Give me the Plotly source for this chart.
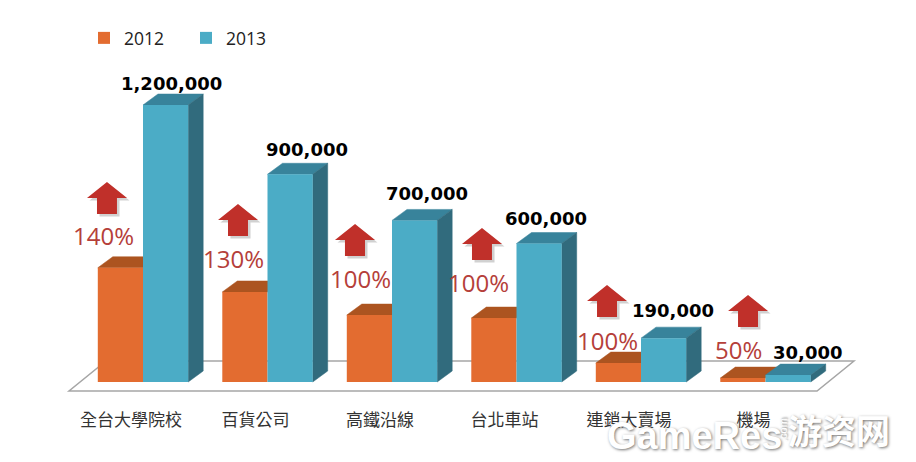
import plotly.graph_objects as go

# %% data
categories = ['全台大學院校', '百貨公司', '高鐵沿線', '台北車站', '連鎖大賣場', '機場']
values_2012 = [495000, 390000, 290000, 277000, 82000, 17000]
values_2013 = [1200000, 900000, 700000, 600000, 190000, 30000]
value_labels = ['1,200,000', '900,000', '700,000', '600,000', '190,000', '30,000']
growth_labels = ['140%', '130%', '100%', '100%', '100%', '50%']

# %% page geometry, in pixels of the 916x462 window
# the page body has an 8px margin, so the figure starts at (8, 8)
W, H = 916, 462
BODY = 8
PLOT_BOTTOM = 408
BASE_Y = 382
FIRST_X = 143
STEP_X = 124.5
BAR_PX = 45.2
PX_PER_VALUE = 277 / 1200000
DX = 15 / STEP_X
DY = 11 / PX_PER_VALUE
BAR_W = BAR_PX / STEP_X

ORANGE, ORANGE_TOP = '#E36C30', '#AC5420'
TEAL, TEAL_TOP, TEAL_SIDE = '#4BACC6', '#38839B', '#316B7D'
RED = '#C0302A'
LABEL_RED = '#B5403A'


def px(x):
    return (x - BODY) / (W - BODY)


def py(y):
    return 1 - (y - BODY) / (PLOT_BOTTOM - BODY)


def top_face(x0, v):
    return ([x0, x0 + BAR_W, x0 + BAR_W + DX, x0 + DX, x0], [v, v, v + DY, v + DY, v])


def side_face(x0, v):
    x1 = x0 + BAR_W
    return ([x1, x1 + DX, x1 + DX, x1, x1], [0, DY, v + DY, v, 0])


def polygon(face, color):
    return go.Scatter(x=face[0], y=face[1], mode='lines', fill='toself', fillcolor=color,
                      line=dict(color=color, width=0.5), hoverinfo='skip',
                      showlegend=False, zorder=0)


def page_text(x, y, text, font, **kw):
    fig.add_annotation(x=px(x), y=py(y), xref='paper', yref='paper', text=text, showarrow=False,
                       xanchor='center', yanchor='middle', font=font, **kw)


# %% 3d faces behind the bars
fig = go.Figure()
for i, v in enumerate(values_2012):
    fig.add_trace(polygon(top_face(i - BAR_W, v), ORANGE_TOP))
for i, v in enumerate(values_2013):
    fig.add_trace(polygon(top_face(i, v), TEAL_TOP))
    fig.add_trace(polygon(side_face(i, v), TEAL_SIDE))

# %% bars
xs = list(range(len(categories)))
fig.add_trace(go.Bar(x=xs, y=values_2012, name='2012', marker_color=ORANGE, marker_line_width=0, zorder=1))
fig.add_trace(go.Bar(x=xs, y=values_2013, name='2013', marker_color=TEAL, marker_line_width=0, zorder=1))

# %% value labels
label_dx = [6, 17, 12, 7, 9, 19]
label_dy = [11, 14, 16, 14, 17, 12]
for i, (v, t) in enumerate(zip(values_2013, value_labels)):
    fig.add_annotation(x=i + BAR_W / 2, y=v + DY, text=t, showarrow=False,
                       xanchor='center', yanchor='middle',
                       xshift=label_dx[i], yshift=label_dy[i],
                       font=dict(family='DejaVu Sans', size=18, color='black', weight='bold'))

# %% growth arrows and labels
arrow_tips = [(107, 182), (238, 204), (355, 224), (482, 228), (607, 285), (748, 295)]
growth_pos = [(103, 236), (233, 258), (360, 278), (478, 282), (607, 340), (738, 349)]
shapes = []
for tx, ty in arrow_tips:
    for off, color in ((2.5, 'rgba(90,90,90,0.28)'), (0, RED)):
        pts = [(tx, ty), (tx + 20, ty + 16), (tx + 10, ty + 16), (tx + 10, ty + 32),
               (tx - 10, ty + 32), (tx - 10, ty + 16), (tx - 20, ty + 16)]
        path = 'M ' + ' L '.join(f'{px(a + off):.4f},{py(b + off):.4f}' for a, b in pts) + ' Z'
        shapes.append(dict(type='path', path=path, xref='paper', yref='paper',
                           fillcolor=color, line=dict(width=0)))
for (gx, gy), t in zip(growth_pos, growth_labels):
    page_text(gx, gy, t, dict(family='Open Sans', size=24, color=LABEL_RED))

# %% floor
floor = [(69, 391), (817, 391), (854, 361), (106, 361)]
floor_path = 'M ' + ' L '.join(f'{px(a):.4f},{py(b):.4f}' for a, b in floor) + ' Z'
shapes.append(dict(type='path', path=floor_path, xref='paper', yref='paper', layer='below',
                   fillcolor='white', line=dict(color='#A6A6A6', width=1.5)))

# %% watermark
page_text(694, 436, 'GameRes', dict(family='Liberation Sans', size=38, color='white', weight='bold',
                                    shadow='1px 1px 3px rgba(0,0,0,0.55)'))
page_text(783, 430, '.com', dict(family='Liberation Sans', size=11, color='white',
                                 shadow='1px 1px 2px rgba(0,0,0,0.55)'), textangle=-90)
page_text(839, 429, '游资网', dict(family='Noto Sans CJK SC', size=34, color='white', weight='bold',
                                shadow='1px 1px 3px rgba(0,0,0,0.55)'))

fig.update_layout(
    width=W - BODY, height=H - BODY,
    margin=dict(l=0, r=0, t=0, b=H - PLOT_BOTTOM, pad=0),
    paper_bgcolor='white', plot_bgcolor='rgba(0,0,0,0)',
    barmode='group', bargap=1 - 2 * BAR_W, bargroupgap=0,
    shapes=shapes,
    legend=dict(orientation='h', x=px(84), y=py(38), xanchor='left', yanchor='middle',
                entrywidth=57, entrywidthmode='pixels',
                font=dict(family='Open Sans', size=17.5, color='#222222')),
    xaxis=dict(range=[(BODY - FIRST_X) / STEP_X, (W - FIRST_X) / STEP_X],
               tickmode='array', tickvals=[i - 12 / STEP_X for i in xs], ticktext=categories,
               showgrid=False, zeroline=False, showline=False, ticks='',
               tickfont=dict(family='Noto Sans CJK TC', size=17, color='#333333')),
    yaxis=dict(range=[(BASE_Y - PLOT_BOTTOM) / PX_PER_VALUE, (BASE_Y - BODY) / PX_PER_VALUE],
               visible=False),
)
fig.write_html("out.html")
